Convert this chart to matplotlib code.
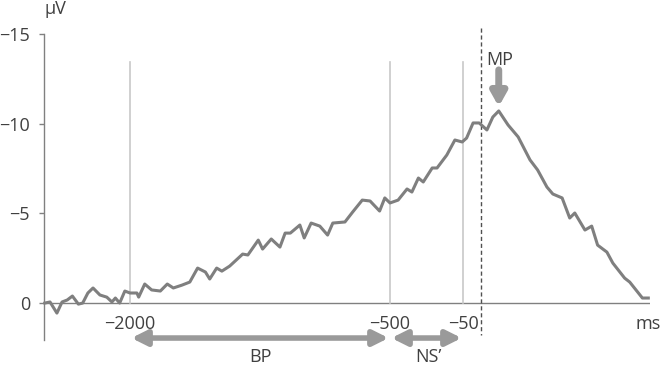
import numpy as np
import matplotlib
matplotlib.use("Agg")
import matplotlib.pyplot as plt

# Readiness potential trace, time in ms, amplitude in microvolts
time_ms = [-2495, -2465, -2425, -2395, -2365, -2335, -2300, -2275, -2245, -2215,
           -2175, -2135, -2105, -2085, -2060, -2030, -2000, -1960, -1950, -1915,
           -1875, -1825, -1785, -1750, -1700, -1655, -1610, -1565, -1540, -1500,
           -1470, -1425, -1350, -1320, -1260, -1235, -1185, -1135, -1105, -1075,
           -1020, -995, -955, -905, -860, -830, -760, -715, -660, -615,
           -560, -530, -500, -450, -395, -365, -325, -295, -240, -210,
           -150, -100, -55, -40, -22, -5, 35, 70, 105, 160,
           220, 290, 335, 390, 425, 480, 525, 555, 615, 655,
           690, 745, 780, 850, 880, 955, 990]
amp_uv = [0.0, -0.06, 0.56, -0.06, -0.17, -0.39, 0.06, 0.0, -0.56, -0.84,
          -0.45, -0.33, -0.06, -0.28, 0.0, -0.67, -0.56, -0.56, -0.33, -1.06,
          -0.73, -0.67, -1.06, -0.84, -1.0, -1.17, -1.95, -1.73, -1.34, -1.95,
          -1.78, -2.06, -2.73, -2.68, -3.51, -3.01, -3.57, -3.12, -3.9, -3.9,
          -4.35, -3.63, -4.46, -4.29, -3.79, -4.46, -4.52, -5.08, -5.74, -5.69,
          -5.13, -5.86, -5.58, -5.74, -6.36, -6.19, -6.97, -6.75, -7.53, -7.53,
          -8.25, -9.09, -8.98, -9.2, -10.04, -10.04, -9.65, -10.37, -10.71, -9.93,
          -9.26, -7.98, -7.42, -6.47, -6.08, -5.86, -4.74, -5.02, -4.07, -4.29,
          -3.23, -2.84, -2.23, -1.39, -1.17, -0.28, -0.28]

y_ticks = [-15, -10, -5, 0]
marker_ms = [-2000, -500, -50]
marker_labels = ["\u22122000", "\u2212500", "\u221250"]
onset_ms = 0
peak_ms = 105

# schematic (non-linear) time axis
knots_ms = np.array([-2500, -2000, -500, -50, 0, 1000], dtype=float)
knots_pos = np.array([0, 86, 346, 419, 437, 606], dtype=float)


def fwd(x):
    return np.interp(x, knots_ms, knots_pos)


def inv(p):
    return np.interp(p, knots_pos, knots_ms)


plt.rcParams['font.family'] = ['Open Sans', 'DejaVu Sans']
txt = '#404040'
axc = '#808080'
fs = 13

fig = plt.figure(figsize=(6.63, 3.69), dpi=100)
ax = fig.add_axes([44 / 663, 1 - 340 / 369, 606 / 663, 306 / 369])
ax.set_xscale('function', functions=(fwd, inv))
ax.set_xlim(-2500, 1000)
ax.set_ylim(2.06, -15)

for s in ['top', 'right', 'bottom']:
    ax.spines[s].set_visible(False)
ax.spines['left'].set_color(axc)
ax.spines['left'].set_linewidth(1.0)
ax.set_yticks(y_ticks)
ax.set_yticklabels(["\u221215", "\u221210", "\u22125", "0"])
ax.tick_params(axis='y', colors=axc, length=3.6, width=1.0, labelcolor=txt,
               labelsize=fs, pad=6.5)
ax.set_xticks([])

ax.axhline(0, color=axc, lw=1.0, zorder=1)

for m in marker_ms:
    ax.plot([m, m], [-13.44, 0], color='#c8c8c8', lw=1.2, zorder=1)
ax.plot([onset_ms, onset_ms], [-15.34, 1.78], color='#505050', lw=1.0,
        dashes=(3, 2), clip_on=False, zorder=2)

ax.plot(time_ms, amp_uv, color='#7f7f7f', lw=2.2, zorder=3, clip_on=False,
        solid_joinstyle='round')

for m, lab in zip(marker_ms, marker_labels):
    ax.text(m, 1.45, lab, ha='center', va='baseline', fontsize=fs, color=txt)
ax.text(990, 1.45, "ms", ha='center', va='baseline', fontsize=fs, color=txt)
ax.text(-2715, -16.1, "\u03bcV", ha='left', va='baseline', fontsize=fs,
        color=txt, clip_on=False)

arrow_c = '#9a9a9a'
for a, b in [(-2000, -500), (-500, -50)]:
    ax.annotate('', xy=(b, 1.95), xytext=(a, 1.95), annotation_clip=False,
                arrowprops=dict(arrowstyle='<|-|>,head_length=0.9,head_width=0.45',
                                color=arrow_c, lw=4, shrinkA=1, shrinkB=1))
ax.text(-1250, 3.3, "BP", ha='center', va='baseline', fontsize=fs, color=txt,
        clip_on=False)
ax.text(-266, 3.3, "NS\u2019", ha='center', va='baseline', fontsize=fs,
        color=txt, clip_on=False)

ax.annotate('', xy=(peak_ms, -10.95), xytext=(peak_ms, -13.0),
            annotation_clip=False,
            arrowprops=dict(arrowstyle='-|>,head_length=0.8,head_width=0.45',
                            color=arrow_c, lw=5, shrinkA=0, shrinkB=0))
ax.text(112, -13.27, "MP", ha='center', va='baseline', fontsize=fs, color=txt)

fig.savefig('out.png', dpi=100)
